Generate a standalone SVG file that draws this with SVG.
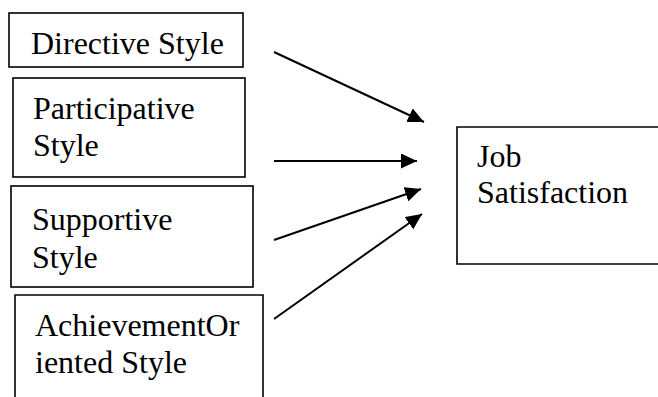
<svg xmlns="http://www.w3.org/2000/svg" width="658" height="397" viewBox="0 0 658 397">
<defs>
<style>
.box{fill:#fff;stroke:#000;stroke-width:1.6}
.t{font-family:"Liberation Serif","Times New Roman",serif;font-size:32px;fill:#000}
.c{stroke:#000;stroke-width:2;fill:none}
</style>
<marker id="ah" viewBox="0 0 16 15" refX="16" refY="7.5" markerWidth="16" markerHeight="15" markerUnits="userSpaceOnUse" orient="auto">
<path d="M0,0 L16,7.5 L0,15 Z" fill="#000"/>
</marker>
</defs>
<rect width="658" height="397" fill="#fff"/>
<g id="directive">
<rect class="box" x="9" y="13" width="234" height="54"/>
<text class="t" x="31" y="54">Directive Style</text>
</g>
<g id="participative">
<rect class="box" x="13" y="78" width="232" height="99"/>
<text class="t" x="33" y="119">Participative</text>
<text class="t" x="33" y="156">Style</text>
</g>
<g id="supportive">
<rect class="box" x="11" y="186" width="242" height="101"/>
<text class="t" x="32" y="230">Supportive</text>
<text class="t" x="32" y="268">Style</text>
</g>
<g id="achievement">
<path class="box" d="M15,400 L15,295 L263,295 L263,400"/>
<text class="t" x="35" y="336">AchievementOr</text>
<text class="t" x="35" y="373">iented Style</text>
</g>
<g id="job">
<path class="box" d="M660,127 L457,127 L457,264 L660,264"/>
<text class="t" x="477" y="167">Job</text>
<text class="t" x="477" y="203">Satisfaction</text>
</g>
<g id="connectors">
<line class="c" x1="274" y1="52" x2="424" y2="122" marker-end="url(#ah)"/>
<line class="c" x1="274" y1="161" x2="417" y2="161" marker-end="url(#ah)"/>
<line class="c" x1="274" y1="240" x2="421" y2="189" marker-end="url(#ah)"/>
<line class="c" x1="274" y1="319" x2="422" y2="214" marker-end="url(#ah)"/>
</g>
</svg>
